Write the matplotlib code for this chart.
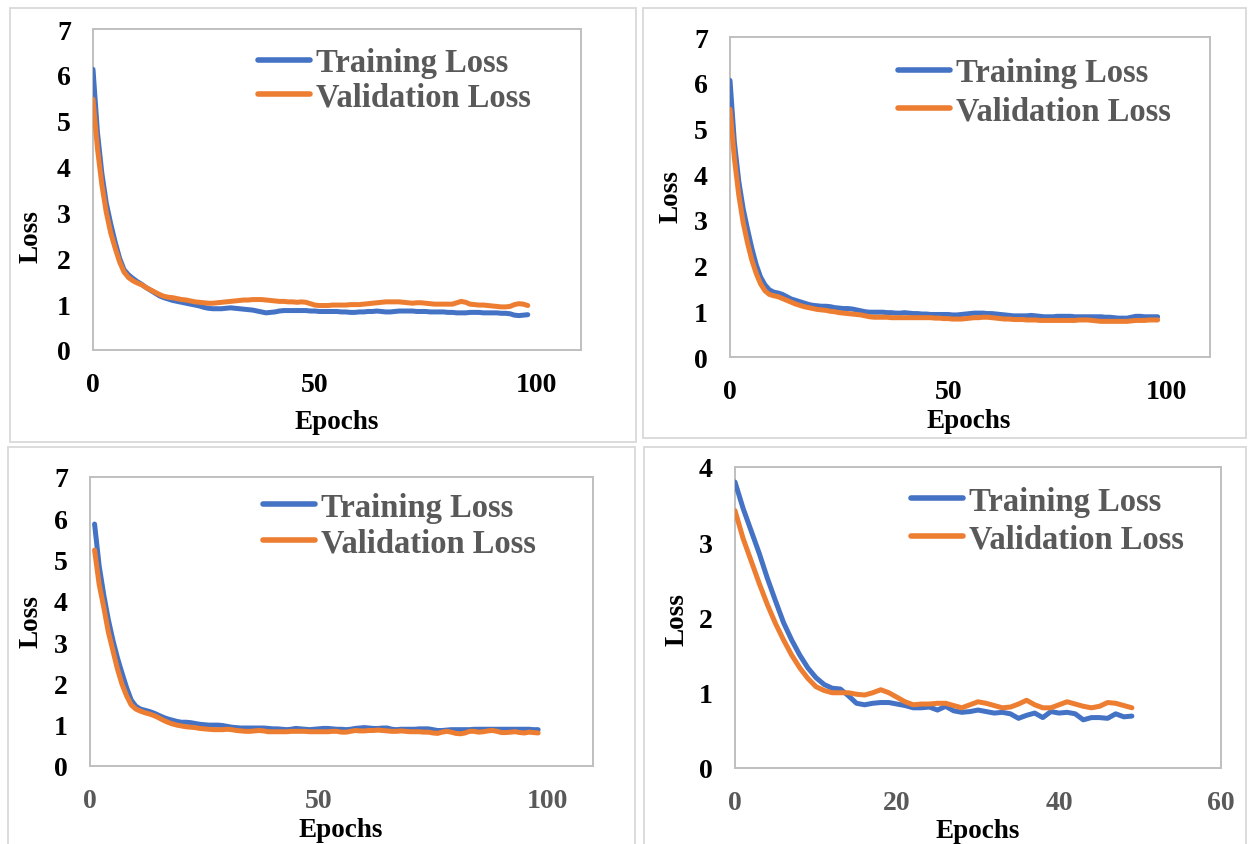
import matplotlib
matplotlib.use("Agg")
import matplotlib.pyplot as plt
from matplotlib.patches import Rectangle

# ---------------- data ----------------
# Panel A (top-left), epochs 0..98
epochs_a = list(range(0, 99))
train_a = [6.12, 4.75, 3.85, 3.20, 2.75, 2.35, 2.00, 1.75, 1.64, 1.56,
           1.49, 1.43, 1.36, 1.30, 1.24, 1.18, 1.14, 1.11, 1.08, 1.06,
           1.04, 1.02, 1.00, 0.98, 0.96, 0.93, 0.91, 0.90, 0.90, 0.90,
           0.91, 0.92, 0.91, 0.90, 0.89, 0.88, 0.87, 0.85, 0.83, 0.81,
           0.82, 0.83, 0.85, 0.86, 0.86, 0.86, 0.86, 0.86, 0.86, 0.85,
           0.85, 0.84, 0.84, 0.84, 0.84, 0.84, 0.83, 0.83, 0.82, 0.82,
           0.83, 0.83, 0.84, 0.84, 0.85, 0.84, 0.83, 0.83, 0.84, 0.85,
           0.85, 0.85, 0.85, 0.84, 0.84, 0.84, 0.83, 0.83, 0.83, 0.83,
           0.82, 0.82, 0.81, 0.81, 0.81, 0.82, 0.82, 0.82, 0.81, 0.81,
           0.81, 0.81, 0.80, 0.80, 0.79, 0.76, 0.75, 0.76, 0.77]
val_a = [5.47, 4.40, 3.60, 3.00, 2.55, 2.22, 1.92, 1.70, 1.58, 1.51,
         1.46, 1.42, 1.36, 1.31, 1.26, 1.21, 1.17, 1.15, 1.14, 1.12,
         1.10, 1.09, 1.07, 1.05, 1.04, 1.03, 1.02, 1.02, 1.03, 1.04,
         1.05, 1.06, 1.07, 1.08, 1.09, 1.09, 1.10, 1.10, 1.10, 1.09,
         1.08, 1.07, 1.06, 1.06, 1.05, 1.05, 1.04, 1.05, 1.04, 1.01,
         0.98, 0.97, 0.97, 0.97, 0.98, 0.98, 0.98, 0.98, 0.99, 0.99,
         0.99, 1.00, 1.01, 1.02, 1.03, 1.04, 1.05, 1.05, 1.05, 1.05,
         1.04, 1.03, 1.02, 1.03, 1.03, 1.02, 1.01, 1.00, 1.00, 1.00,
         1.00, 1.00, 1.03, 1.06, 1.04, 1.00, 0.99, 0.98, 0.98, 0.97,
         0.96, 0.95, 0.94, 0.94, 0.95, 0.99, 1.01, 1.00, 0.97]

# Panel B (top-right), epochs 0..98
epochs_b = list(range(0, 99))
train_b = [6.05, 4.70, 3.85, 3.25, 2.80, 2.38, 2.02, 1.75, 1.58, 1.47,
           1.42, 1.40, 1.37, 1.32, 1.27, 1.24, 1.21, 1.18, 1.15, 1.13,
           1.12, 1.11, 1.11, 1.10, 1.08, 1.07, 1.06, 1.06, 1.05, 1.03,
           1.01, 0.99, 0.98, 0.98, 0.98, 0.98, 0.97, 0.97, 0.96, 0.96,
           0.97, 0.96, 0.95, 0.95, 0.94, 0.94, 0.93, 0.93, 0.93, 0.93,
           0.93, 0.92, 0.92, 0.93, 0.94, 0.95, 0.96, 0.96, 0.96, 0.95,
           0.95, 0.94, 0.93, 0.92, 0.91, 0.90, 0.90, 0.90, 0.90, 0.91,
           0.90, 0.89, 0.88, 0.88, 0.88, 0.89, 0.89, 0.89, 0.89, 0.88,
           0.88, 0.88, 0.88, 0.88, 0.88, 0.88, 0.87, 0.87, 0.86, 0.85,
           0.85, 0.85, 0.87, 0.89, 0.89, 0.88, 0.88, 0.88, 0.88]
val_b = [5.42, 4.35, 3.55, 2.95, 2.50, 2.12, 1.83, 1.60, 1.45, 1.37,
         1.34, 1.32, 1.28, 1.24, 1.20, 1.16, 1.13, 1.10, 1.08, 1.06,
         1.04, 1.03, 1.02, 1.00, 0.99, 0.97, 0.96, 0.95, 0.94, 0.93,
         0.92, 0.90, 0.88, 0.87, 0.87, 0.87, 0.87, 0.86, 0.86, 0.86,
         0.86, 0.86, 0.86, 0.86, 0.86, 0.86, 0.86, 0.85, 0.85, 0.84,
         0.84, 0.83, 0.83, 0.83, 0.84, 0.85, 0.86, 0.86, 0.87, 0.87,
         0.86, 0.85, 0.84, 0.83, 0.83, 0.82, 0.82, 0.82, 0.81, 0.81,
         0.81, 0.80, 0.80, 0.80, 0.80, 0.80, 0.80, 0.80, 0.80, 0.80,
         0.81, 0.81, 0.81, 0.80, 0.79, 0.78, 0.78, 0.78, 0.78, 0.78,
         0.78, 0.78, 0.79, 0.80, 0.80, 0.80, 0.81, 0.81, 0.81]

# Panel C (bottom-left), epochs 1..98
epochs_c = list(range(1, 99))
train_c = [5.86, 4.85, 4.15, 3.55, 3.05, 2.62, 2.25, 1.90, 1.60, 1.45,
           1.38, 1.35, 1.32, 1.28, 1.23, 1.18, 1.14, 1.11, 1.08, 1.06,
           1.06, 1.05, 1.03, 1.01, 1.00, 0.99, 0.99, 0.99, 0.98, 0.96,
           0.94, 0.93, 0.92, 0.92, 0.92, 0.92, 0.92, 0.92, 0.91, 0.90,
           0.90, 0.89, 0.88, 0.89, 0.91, 0.90, 0.89, 0.88, 0.89, 0.90,
           0.91, 0.91, 0.90, 0.89, 0.89, 0.88, 0.89, 0.91, 0.92, 0.93,
           0.92, 0.91, 0.91, 0.92, 0.92, 0.89, 0.88, 0.89, 0.89, 0.89,
           0.89, 0.90, 0.90, 0.90, 0.88, 0.86, 0.86, 0.87, 0.88, 0.88,
           0.88, 0.88, 0.88, 0.89, 0.89, 0.89, 0.89, 0.89, 0.89, 0.89,
           0.89, 0.89, 0.89, 0.89, 0.89, 0.89, 0.88, 0.88]
val_c = [5.23, 4.40, 3.85, 3.25, 2.80, 2.35, 1.98, 1.70, 1.48, 1.38,
         1.33, 1.29, 1.26, 1.22, 1.17, 1.11, 1.06, 1.02, 0.99, 0.97,
         0.95, 0.94, 0.93, 0.91, 0.90, 0.89, 0.88, 0.88, 0.88, 0.89,
         0.88, 0.86, 0.85, 0.84, 0.84, 0.85, 0.86, 0.85, 0.83, 0.83,
         0.83, 0.83, 0.83, 0.84, 0.84, 0.84, 0.84, 0.83, 0.83, 0.83,
         0.83, 0.83, 0.84, 0.84, 0.82, 0.82, 0.84, 0.86, 0.85, 0.85,
         0.86, 0.86, 0.87, 0.86, 0.85, 0.84, 0.84, 0.85, 0.84, 0.83,
         0.83, 0.83, 0.82, 0.82, 0.80, 0.79, 0.82, 0.84, 0.82, 0.79,
         0.78, 0.80, 0.84, 0.84, 0.82, 0.83, 0.85, 0.86, 0.84, 0.81,
         0.81, 0.82, 0.83, 0.81, 0.80, 0.82, 0.81, 0.80]

# Panel D (bottom-right), epochs 0..49
epochs_d = list(range(0, 50))
train_d = [3.80, 3.45, 3.15, 2.85, 2.52, 2.22, 1.93, 1.70, 1.50, 1.33,
           1.20, 1.11, 1.06, 1.05, 0.96, 0.86, 0.84, 0.86, 0.87, 0.87,
           0.85, 0.83, 0.80, 0.80, 0.81, 0.77, 0.82, 0.76, 0.74, 0.75,
           0.77, 0.75, 0.73, 0.74, 0.72, 0.66, 0.70, 0.73, 0.67, 0.75,
           0.73, 0.74, 0.72, 0.64, 0.67, 0.67, 0.66, 0.72, 0.68, 0.69]
val_d = [3.42, 3.05, 2.75, 2.45, 2.17, 1.92, 1.70, 1.50, 1.33, 1.19,
         1.08, 1.03, 1.00, 1.00, 1.00, 0.98, 0.97, 1.00, 1.04, 1.00,
         0.94, 0.88, 0.84, 0.85, 0.85, 0.86, 0.86, 0.83, 0.80, 0.84,
         0.88, 0.86, 0.83, 0.80, 0.81, 0.85, 0.90, 0.84, 0.80, 0.80,
         0.84, 0.88, 0.85, 0.82, 0.80, 0.82, 0.87, 0.86, 0.83, 0.80]

series_labels = ["Training Loss", "Validation Loss"]
x_title = "Epochs"
y_title = "Loss"

# ---------------- style ----------------
W, H = 1249, 845
BLUE = "#4472C4"
ORANGE = "#ED7D31"
SPINE = "#BFBFBF"
BORDER = "#D9D9D9"
GRAY_TXT = "#595959"
FONT = "Liberation Serif"

plt.rcParams["font.family"] = [FONT, "DejaVu Serif"]
plt.rcParams["font.weight"] = "bold"

fig = plt.figure(figsize=(W / 100, H / 100), dpi=100)
fig.patch.set_facecolor("white")


def px_rect(l, t, r, b):
    return [l / W, 1 - b / H, (r - l) / W, (b - t) / H]


# outer panel borders (in pixels)
borders = [(10, 9, 636, 443), (643, 9, 1246, 439), (8, 448, 635, 860), (644, 448, 1246, 860)]
for (l, t, r, b) in borders:
    fig.patches.append(Rectangle((l / W, 1 - b / H), (r - l) / W, (b - t) / H,
                                 transform=fig.transFigure, fill=False,
                                 edgecolor=BORDER, linewidth=1.3, zorder=0))

panels = [
    dict(rect=(93, 30, 581, 351), x=epochs_a, tr=train_a, va=val_a, xlim=110, xticks=[0, 50, 100],
         ylim=7, xcol="black", leg=(258, 81), lsp=0.11, xl=(0.5, -0.224), yl=(-0.127, 0.355)),
    dict(rect=(730, 38, 1210, 358), x=epochs_b, tr=train_b, va=val_b, xlim=110, xticks=[0, 50, 100],
         ylim=7, xcol="black", leg=(898, 93), lsp=0.23, xl=(0.498, -0.2), yl=(-0.123, 0.503)),
    dict(rect=(90, 478, 593, 767), x=epochs_c, tr=train_c, va=val_c, xlim=110, xticks=[0, 50, 100],
         ylim=7, xcol=GRAY_TXT, leg=(263, 526), lsp=0.14, xl=(0.499, -0.218), yl=(-0.117, 0.502)),
    dict(rect=(735, 468, 1221, 769), x=epochs_d, tr=train_d, va=val_d, xlim=60, xticks=[0, 20, 40, 60],
         ylim=4, xcol=GRAY_TXT, leg=(911, 521), lsp=0.2, xl=(0.5, -0.206), yl=(-0.119, 0.495)),
]

for p in panels:
    l, t, r, b = p["rect"]
    ax = fig.add_axes(px_rect(l, t, r, b))
    ax.plot(p["x"], p["tr"], color=BLUE, lw=3.6, solid_capstyle="round",
            solid_joinstyle="round", label=series_labels[0], zorder=3)
    ax.plot(p["x"], p["va"], color=ORANGE, lw=3.6, solid_capstyle="round",
            solid_joinstyle="round", label=series_labels[1], zorder=4)
    ax.set_xlim(0, p["xlim"])
    ax.set_ylim(0, p["ylim"])
    ax.set_xticks(p["xticks"])
    ax.set_yticks(range(0, p["ylim"] + 1))
    for s in ax.spines.values():
        s.set_color(SPINE)
        s.set_linewidth(1.4)
    ax.tick_params(axis="both", length=0, labelsize=20)
    ax.tick_params(axis="y", pad=16, labelcolor="black")
    ax.tick_params(axis="x", pad=16, labelcolor=p["xcol"])
    for lab in ax.get_xticklabels() + ax.get_yticklabels():
        lab.set_fontweight("bold")
    ax.set_xlabel(x_title, fontsize=19.5, fontweight="bold", color="black", va="center")
    ax.xaxis.set_label_coords(*p["xl"])
    ax.set_ylabel(y_title, fontsize=19.5, fontweight="bold", color="black", va="center", ha="center")
    ax.yaxis.set_label_coords(*p["yl"])

    lx, ly = p["leg"]
    ax_w = r - l
    ax_h = b - t
    anchor = ((lx - l) / ax_w, (b - ly) / ax_h)
    leg = ax.legend(loc="center left", bbox_to_anchor=anchor, frameon=False,
                    prop={"family": FONT, "weight": "bold", "size": 23.5},
                    handlelength=1.6, handletextpad=0.18, labelspacing=p["lsp"],
                    borderpad=0, borderaxespad=0)
    for txt in leg.get_texts():
        txt.set_color(GRAY_TXT)
    for ln in leg.get_lines():
        ln.set_linewidth(4.0)
        ln.set_solid_capstyle("round")

fig.savefig("out.png", dpi=100, facecolor="white")
